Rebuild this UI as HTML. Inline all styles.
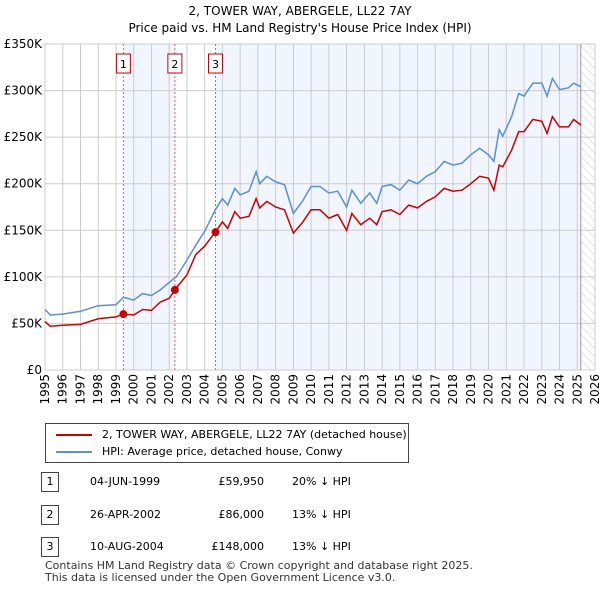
<!DOCTYPE html>
<html><head><meta charset="utf-8"><style>
body{margin:0;width:600px;height:590px;background:#fff;font-family:"DejaVu Sans","Liberation Sans",sans-serif;color:#000;overflow:hidden;position:relative}
.t{position:absolute;font-size:12px}
</style></head><body>
<div class="t" style="left:0;width:600px;text-align:center;top:3px;font-size:12px;line-height:17px">2, TOWER WAY, ABERGELE, LL22 7AY<br>Price paid vs. HM Land Registry's House Price Index (HPI)</div>
<svg id="c" width="600" height="420" style="position:absolute;left:0;top:0" font-family="DejaVu Sans, Liberation Sans, sans-serif" font-size="12"></svg>
<div style="position:absolute;left:45px;top:423px;width:362px;height:38px;border:1px solid #444;background:#fff">
 <div style="position:absolute;left:10px;top:4px;font-size:11px;white-space:nowrap"><span style="display:inline-block;width:36px;border-top:2px solid #cc0000;vertical-align:middle;margin-right:10px"></span>2, TOWER WAY, ABERGELE, LL22 7AY (detached house)</div>
 <div style="position:absolute;left:10px;top:21px;font-size:11px;white-space:nowrap"><span style="display:inline-block;width:36px;border-top:2px solid #5b8fd6;vertical-align:middle;margin-right:10px"></span>HPI: Average price, detached house, Conwy</div>
</div>
<div id="tbl"></div>
<div class="t" style="left:45px;top:560px;font-size:11px;line-height:12px;color:#333;white-space:nowrap">Contains HM Land Registry data © Crown copyright and database right 2025.<br>This data is licensed under the Open Government Licence v3.0.</div>
<script>
const years=[1995,1995.3,1996,1997,1998,1999,1999.42,2000,2000.5,2001,2001.5,2002,2002.4,2003,2003.5,2004,2004.6,2005,2005.3,2005.7,2006,2006.5,2006.9,2007.1,2007.5,2008,2008.5,2009,2009.5,2010,2010.5,2011,2011.5,2012,2012.3,2012.8,2013.3,2013.7,2014,2014.5,2015,2015.5,2016,2016.5,2017,2017.5,2018,2018.5,2019,2019.5,2020,2020.3,2020.6,2020.8,2021.3,2021.7,2022,2022.5,2023,2023.3,2023.6,2024,2024.5,2024.8,2025.2];
const hpi=[65,59,60,63,69,70,78,75,82,80,86,94,100,118,134,149,172,184,177,195,188,192,213,200,208,202,199,168,181,197,197,190,192,175,193,179,190,179,197,199,193,204,200,208,213,224,220,222,231,238,231,224,258,251,272,297,294,308,308,294,313,301,303,308,304];
const price=[52,47,48,49,55,57,60,59,65,64,73,77,88,102,124,133,148,159,152,170,163,165,184,174,181,175,172,147,158,172,172,163,167,150,168,156,163,156,170,172,167,177,174,181,186,195,192,193,200,208,206,193,220,218,236,256,256,269,267,254,272,261,261,269,263];
const saleYears=[1999.42,2002.32,2004.61];
const salePrices=[59.95,86,148];
const saleDates=["04-JUN-1999","26-APR-2002","10-AUG-2004"];
const saleLabels=["£59,950","£86,000","£148,000"];
const saleHpi=["20% ↓ HPI","13% ↓ HPI","13% ↓ HPI"];
const yTicks=[0,50,100,150,200,250,300,350];
const yTickLabels=["£0","£50K","£100K","£150K","£200K","£250K","£300K","£350K"];
const L=45,R=595,T=44,B=370,Y0=1995,Y1=2026,VMAX=350,END=2025.2;
const X=y=>L+(y-Y0)/(Y1-Y0)*(R-L), Y=v=>B-v/VMAX*(B-T);
const s=document.getElementById('c'),NS='http://www.w3.org/2000/svg';
function mk(t,a,p){const e=document.createElementNS(NS,t);for(const k in a)e.setAttribute(k,a[k]);(p||s).appendChild(e);return e;}
s.innerHTML='<defs><pattern id="h" width="6" height="6" patternUnits="userSpaceOnUse" patternTransform="rotate(-45)"><line x1="0" y1="0" x2="0" y2="6" stroke="#ccc" stroke-width="1"/></pattern></defs>';
let e;
e=mk('rect',{x:X(saleYears[0]),y:T,width:X(saleYears[1])-X(saleYears[0]),height:B-T,fill:'#f1f5fd'});

e=mk('rect',{x:X(saleYears[2]),y:T,width:X(END)-X(saleYears[2]),height:B-T,fill:'#f1f5fd'});

e=mk('rect',{x:X(END),y:T,width:R-X(END),height:B-T,fill:'url(#h)'});

for(let y=Y0;y<=Y1;y++){
 e=mk('line',{x1:X(y),x2:X(y),y1:T,y2:B,stroke:'#ccc'});
 
 const tx=X(y)+4,ty=B+4;
 e=mk('text',{x:tx,y:ty,transform:`rotate(-90 ${tx} ${ty})`,'text-anchor':'end'});e.textContent=y;
 
}
yTicks.forEach((v,i)=>{
 e=mk('line',{x1:L,x2:R,y1:Y(v),y2:Y(v),stroke:'#ccc'});
 
 e=mk('text',{x:L-3,y:Y(v)+4,'text-anchor':'end'});e.textContent=yTickLabels[i];
 
});
e=mk('line',{x1:X(END),x2:X(END),y1:T,y2:B,stroke:'#999'});

const pts=a=>a.map((v,i)=>X(years[i]).toFixed(1)+','+Y(v).toFixed(1)).join(' ');
e=mk('polyline',{points:pts(hpi),fill:'none',stroke:'#5b8fd6','stroke-width':1.5});

e=mk('polyline',{points:pts(price),fill:'none',stroke:'#cc0000','stroke-width':1.5});

saleYears.forEach((y,i)=>{
 e=mk('line',{x1:X(y),x2:X(y),y1:T,y2:B,stroke:'#e06060','stroke-dasharray':'2,2'});
 
 e=mk('rect',{x:X(y)-7,y:54,width:14,height:19,fill:'#fff',stroke:'#cc0000'});
 
 e=mk('text',{x:X(y),y:68,'text-anchor':'middle','font-size':11});e.textContent=i+1;
 
 e=mk('circle',{cx:X(y),cy:Y(salePrices[i]),r:4,fill:'#cc0000'});
 
});
const tb=document.getElementById('tbl');
saleDates.forEach((d,i)=>{
 const top=[472,505,537][i];
 const r=document.createElement('div');
 
 
 r.style.cssText=`position:absolute;left:0;top:${top}px;width:600px;height:20px;font-size:11px`;
 r.innerHTML=`<span style="position:absolute;left:41px;top:0;width:16px;height:18px;border:1px solid #444;text-align:center;line-height:18px">${i+1}</span><span style="position:absolute;left:90px;top:3px">${d}</span><span style="position:absolute;right:336px;top:3px">${saleLabels[i]}</span><span style="position:absolute;left:292px;top:3px">${saleHpi[i]}</span>`;
 tb.appendChild(r);
});
</script>
</body></html>
